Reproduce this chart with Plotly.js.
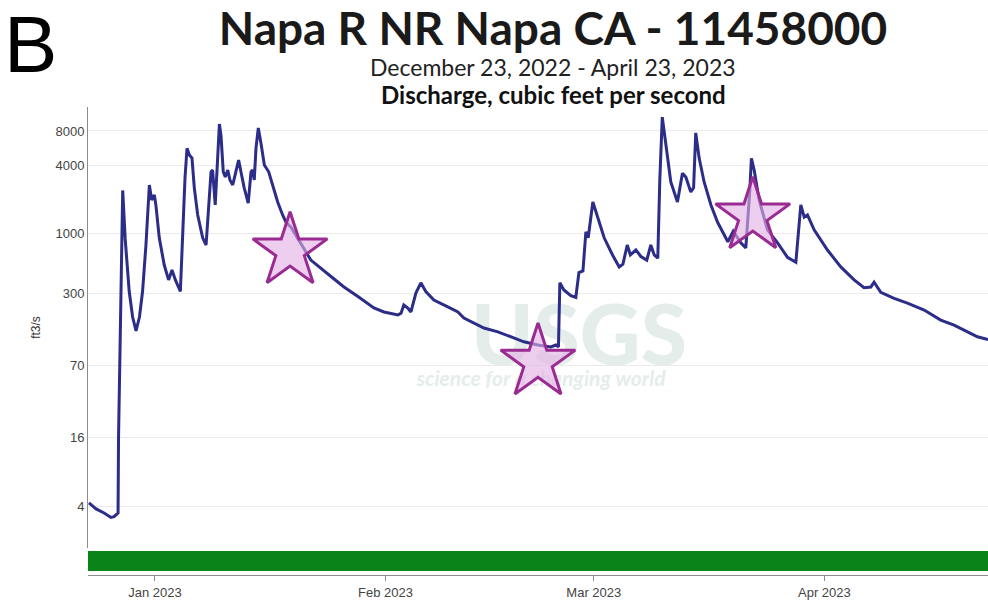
<!DOCTYPE html>
<html>
<head>
<meta charset="utf-8">
<script src="https://cdn.plot.ly/plotly-3.0.1.min.js"></script>
<style>html,body{margin:0;padding:0;background:#fff;}#chart{width:988px;height:603px;}</style>
</head>
<body>
<div id="chart"></div>
<script>
// ---- data ----
var xRange = ['2022-12-23 00:00', '2023-04-23 00:00'];
var dates = [
 '2022-12-23 03:00','2022-12-24 02:00','2022-12-25 04:00','2022-12-26 02:00','2022-12-26 12:00','2022-12-26 22:00',
 '2022-12-27 01:00','2022-12-27 02:30','2022-12-27 07:00','2022-12-27 16:00',
 '2022-12-28 00:00','2022-12-28 13:00','2022-12-29 00:00','2022-12-29 11:00','2022-12-29 22:00','2022-12-30 08:00',
 '2022-12-30 19:00','2022-12-31 06:00','2022-12-31 13:30','2022-12-31 22:00','2023-01-01 03:00','2023-01-01 14:00',
 '2023-01-02 06:00','2023-01-02 20:00','2023-01-03 07:00','2023-01-03 18:00','2023-01-04 10:00','2023-01-04 17:00',
 '2023-01-05 01:00','2023-01-05 07:30','2023-01-05 15:00','2023-01-05 23:30','2023-01-06 07:00','2023-01-06 18:00',
 '2023-01-07 10:00','2023-01-07 21:00','2023-01-08 05:00','2023-01-08 13:00','2023-01-08 18:00','2023-01-08 23:30',
 '2023-01-09 02:30','2023-01-09 08:00','2023-01-09 16:00','2023-01-09 21:00','2023-01-10 04:30','2023-01-10 11:00',
 '2023-01-10 19:00','2023-01-11 02:00','2023-01-11 11:00','2023-01-11 21:00','2023-01-12 06:00','2023-01-12 13:30',
 '2023-01-13 00:00','2023-01-13 13:00','2023-01-13 22:00','2023-01-14 03:00','2023-01-14 08:30','2023-01-14 14:00',
 '2023-01-14 21:30','2023-01-15 06:00','2023-01-15 17:00','2023-01-16 07:00','2023-01-16 20:00','2023-01-17 12:00',
 '2023-01-18 04:00','2023-01-18 15:00','2023-01-19 07:00','2023-01-20 15:00','2023-01-21 23:00','2023-01-24 16:00',
 '2023-01-26 10:00','2023-01-28 07:00','2023-01-30 10:30','2023-01-31 19:00','2023-02-02 16:00','2023-02-03 02:00',
 '2023-02-03 11:00','2023-02-04 00:00','2023-02-04 10:00','2023-02-05 02:00','2023-02-05 18:00','2023-02-06 10:00',
 '2023-02-07 12:00','2023-02-09 09:00','2023-02-10 17:30','2023-02-11 13:00','2023-02-12 21:00','2023-02-14 05:30',
 '2023-02-16 02:30','2023-02-17 20:30','2023-02-19 14:30','2023-02-21 11:30','2023-02-23 05:30','2023-02-23 21:30',
 '2023-02-24 06:00','2023-02-24 10:30','2023-02-24 23:30','2023-02-25 22:00','2023-02-26 14:00','2023-02-27 00:00',
 '2023-02-27 13:00','2023-02-27 22:30','2023-02-28 06:00','2023-02-28 21:00','2023-03-01 13:00','2023-03-02 09:30',
 '2023-03-03 12:30','2023-03-04 10:00','2023-03-04 22:00','2023-03-05 12:00','2023-03-05 22:00','2023-03-06 16:00',
 '2023-03-07 08:00','2023-03-08 03:00','2023-03-08 16:00','2023-03-09 03:00','2023-03-09 14:30','2023-03-09 21:00',
 '2023-03-10 05:00','2023-03-10 16:30','2023-03-11 08:30','2023-03-12 06:00','2023-03-12 22:00','2023-03-13 09:00',
 '2023-03-14 01:00','2023-03-14 10:00','2023-03-14 17:00','2023-03-15 04:00','2023-03-15 20:00','2023-03-16 18:00',
 '2023-03-17 15:30','2023-03-19 00:30','2023-03-19 18:00','2023-03-20 18:30','2023-03-21 10:30','2023-03-21 23:30',
 '2023-03-22 04:30','2023-03-22 13:30','2023-03-23 05:30','2023-03-24 08:30','2023-03-25 17:00','2023-03-27 01:00',
 '2023-03-28 04:00','2023-03-28 20:00','2023-03-29 07:00','2023-03-29 17:30','2023-03-30 15:00','2023-04-01 10:00',
 '2023-04-03 05:00','2023-04-05 00:00','2023-04-06 08:00','2023-04-07 06:00','2023-04-07 16:30','2023-04-08 14:00',
 '2023-04-10 09:00','2023-04-12 04:00','2023-04-14 10:00','2023-04-16 15:30','2023-04-18 10:30','2023-04-20 06:00',
 '2023-04-21 14:00','2023-04-23 00:00'
];
var discharge = [
 4.3,3.8,3.5,3.2,3.25,3.4,
 3.5,16,105,2400,
 900,310,185,140,185,310,
 795,2680,1980,2190,1790,920,
 530,392,479,392,310,920,
 3080,5640,4920,4620,2530,1460,
 920,795,1790,3500,3630,2330,
 1790,3500,9200,7380,3500,3150,
 3630,2965,2680,3500,4445,3500,
 2530,1860,3500,3630,2965,5640,
 8500,6270,4020,3500,2680,1900,
 1460,1260,1140,810,586,420,
 340,280,222,205,193,200,
 236,222,205,300,370,310,
 261,227,205,181,163,148,
 137,124,112,105,101,105,
 101,370,320,285,275,455,
 470,1040,920,1900,1370,920,
 650,510,540,795,650,718,
 630,586,795,650,610,2965,
 10600,6020,2850,1900,3400,3150,
 2330,2530,7700,4620,2850,1790,
 1260,850,1050,830,750,2420,
 4600,3630,1980,1080,830,620,
 560,1790,1400,1460,1080,718,
 510,392,335,340,375,305,
 270,245,213,174,157,137,
 124,117
];
var starDates = ['2023-01-19 04:00', '2023-02-21 12:00', '2023-03-22 09:00'];
var starValues = [704, 74, 1430];
var yTickVals = [4, 16, 70, 300, 1000, 4000, 8000];
var yTickText = ['4', '16', '70', '300', '1000', '4000', '8000'];

// ---- layout helpers (pixels -> paper) ----
var L = 88, R = 0, T = 107, B = 28, W = 988, H = 603;
var pw = W - L - R, ph = H - T - B;
function px(x) { return (x - L) / pw; }
function py(y) { return (H - B - y) / ph; }

var traces = [
  {
    x: dates, y: discharge, type: 'scatter', mode: 'lines',
    line: {color: '#2b2d88', width: 3},
    hoverinfo: 'x+y', showlegend: false
  },
  {
    x: starDates, y: starValues, type: 'scatter', mode: 'markers',
    marker: {symbol: 'star', size: 56, color: 'rgba(228,176,228,0.62)',
             line: {color: '#9a2b93', width: 3}},
    showlegend: false
  }
];

var layout = {
  width: W, height: H,
  margin: {l: L, r: R, t: T, b: B},
  paper_bgcolor: '#ffffff', plot_bgcolor: '#ffffff',
  showlegend: false,
  title: {
    text: '<b>Napa R NR Napa CA - 11458000</b>',
    font: {family: 'Lato, "Open Sans", sans-serif', size: 46, color: '#1a1a1a'},
    xref: 'paper', x: px(553), xanchor: 'center',
    yref: 'container', y: 1 - 29 / H, yanchor: 'middle'
  },
  xaxis: {
    type: 'date', range: xRange,
    anchor: 'free', position: 0,
    showgrid: false, zeroline: false,
    showline: true, linecolor: '#8c8c8c', linewidth: 1,
    ticks: 'outside', ticklen: 5, tickcolor: '#8c8c8c',
    dtick: 'M1', tick0: '2023-01-01', tickformat: '%b %Y',
    tickfont: {family: '"Liberation Sans", Arial, sans-serif', size: 13, color: '#444'}
  },
  yaxis: {
    type: 'log', range: [0.236, 4.114],
    domain: [py(548), 1],
    tickmode: 'array', tickvals: yTickVals, ticktext: yTickText,
    showgrid: true, gridcolor: '#ebebeb', gridwidth: 1,
    zeroline: false, showline: true, linecolor: '#8c8c8c', linewidth: 1,
    ticks: '', tickfont: {family: '"Liberation Sans", Arial, sans-serif', size: 13, color: '#444'},
    title: {text: 'ft3/s', standoff: 12,
            font: {family: '"Liberation Sans", Arial, sans-serif', size: 12, color: '#333'}}
  },
  shapes: [
    {type: 'rect', xref: 'x', yref: 'paper', x0: xRange[0], x1: xRange[1],
     y0: py(571), y1: py(551), fillcolor: '#0a8418', line: {width: 0}, layer: 'above'},
    {type: 'rect', xref: 'paper', yref: 'paper', x0: px(488), x1: px(670), y0: py(364), y1: py(298),
     fillcolor: 'rgba(0,0,0,0)', line: {width: 0}, layer: 'below',
     label: {text: 'USGS', textposition: 'middle center',
             font: {family: 'Lato, sans-serif', size: 84, color: '#e5edeb', weight: 900}}},
    {type: 'rect', xref: 'paper', yref: 'paper', x0: px(412), x1: px(670), y0: py(388), y1: py(366),
     fillcolor: 'rgba(0,0,0,0)', line: {width: 0}, layer: 'below',
     label: {text: 'science for a changing world', textposition: 'middle center',
             font: {family: 'Lato, sans-serif', size: 21, color: '#e5edeb', weight: 700, style: 'italic'}}}
  ],
  annotations: [
    {text: 'B', xref: 'paper', yref: 'paper', x: px(30), y: py(44), xanchor: 'center', yanchor: 'middle',
     showarrow: false, font: {family: '"Liberation Sans", Arial, sans-serif', size: 80, color: '#000'}},
    {text: 'December 23, 2022 - April 23, 2023', xref: 'paper', yref: 'paper', x: px(553), y: py(67),
     xanchor: 'center', yanchor: 'middle', showarrow: false,
     font: {family: 'Lato, "Open Sans", sans-serif', size: 23, color: '#222'}},
    {text: '<b>Discharge, cubic feet per second</b>', xref: 'paper', yref: 'paper', x: px(553), y: py(94),
     xanchor: 'center', yanchor: 'middle', showarrow: false,
     font: {family: 'Lato, "Open Sans", sans-serif', size: 24, color: '#111'}}
  ]
};

Plotly.newPlot('chart', traces, layout, {displayModeBar: false, staticPlot: true});
</script>
</body>
</html>
